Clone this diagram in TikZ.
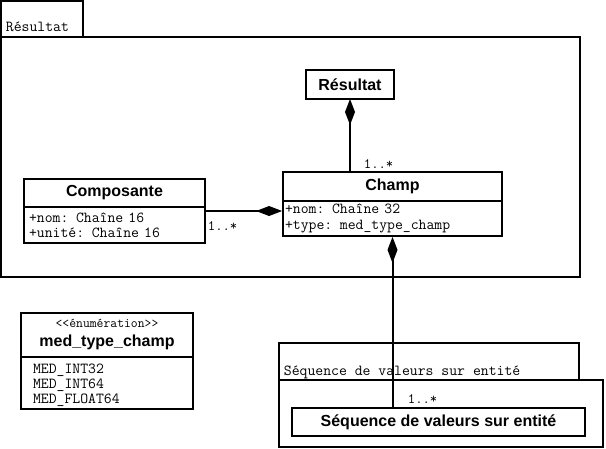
\documentclass[tikz,border=0pt]{standalone}
\usepackage{fontspec}
\usetikzlibrary{arrows.meta, positioning, fit}
\newfontfamily\umlsans{Liberation Sans}
\newcommand{\monotext}{\ttfamily\mdseries\fontsize{15.3}{15.2}\selectfont}
\newcommand{\stereotext}{\ttfamily\mdseries\fontsize{13.3}{14}\selectfont}
\newcommand{\classtext}{\umlsans\bfseries\fontsize{16}{19}\selectfont}

\tikzset{
  classhead/.style={draw, anchor=north west, inner sep=0pt, outer sep=0pt, font=\classtext},
  classbody/.style={draw, inner ysep=0pt, outer sep=0pt, align=left, font=\monotext},
  pkglabel/.style={anchor=base west, inner sep=0pt, font=\monotext},
  mult/.style={anchor=base west, inner sep=0pt, font=\ttfamily\fontsize{14.3}{15}\selectfont},
  compo/.style={line width=2pt, -{Diamond[length=26pt, width=10pt]}},
}

\begin{document}
\begin{tikzpicture}[x=1pt, y=-1pt, line width=1.8pt]

    \useasboundingbox (0,0) rectangle (606,448);

    % package Résultat
    \draw (1,1) rectangle (83,37);
    \draw (1,37) rectangle (580,277);
    \node[pkglabel] (respkg) at (5,31.5) {Résultat};

    % package Séquence
    \draw (279,343) rectangle (579,380);
    \draw (279,380) rectangle (603,447);
    \node[pkglabel] (seqpkg) at (283,375) {Séquence de valeurs sur entité};

    \node[classhead, minimum width=88, minimum height=29] (resultat) at (306,70) {Résultat};

    \node[classhead, minimum width=181, minimum height=28] (comphead) at (24,179) {Composante};
    \node[classbody, below=0pt of comphead, text width=171, inner xsep=5pt, minimum height=36] (compbody) {+nom: Chaîne 16\\+unité: Chaîne 16};
    \node[fit=(comphead)(compbody), inner sep=0pt] (composante) {};

    \node[classhead, minimum width=219, minimum height=29] (champhead) at (283,172) {Champ};
    \node[classbody, below=0pt of champhead, text width=215, inner xsep=2pt, minimum height=35] (champbody) {+nom: Chaîne 32\\+type: med\_type\_champ};
    \node[fit=(champhead)(champbody), inner sep=0pt] (champ) {};

    \node[classhead, minimum width=172, minimum height=44, align=center] (medhead) at (21,313) {{\stereotext \textless\textless énumération\textgreater\textgreater}\\med\_type\_champ};
    \node[classbody, below=0pt of medhead, text width=148, inner xsep=12pt, minimum height=52, text height=16pt, text depth=36pt] (medbody) {MED\_INT32\\MED\_INT64\\MED\_FLOAT64};

    \node[classhead, minimum width=293, minimum height=28] (sequence) at (292,408) {Séquence de valeurs sur entité};

    % compositions
    \draw[compo] (champhead.north -| resultat.south) -- (resultat.south);
    \node[mult] (m1) at (363,168) {1..*};

    \draw[compo] (composante.east) -- (composante.east -| champ.west);
    \node[mult] (m2) at (207,230) {1..*};

    \draw[compo] (sequence.north -| champ.south) -- (champ.south);
    \node[mult] (m3) at (407,403) {1..*};

\end{tikzpicture}
\end{document}
